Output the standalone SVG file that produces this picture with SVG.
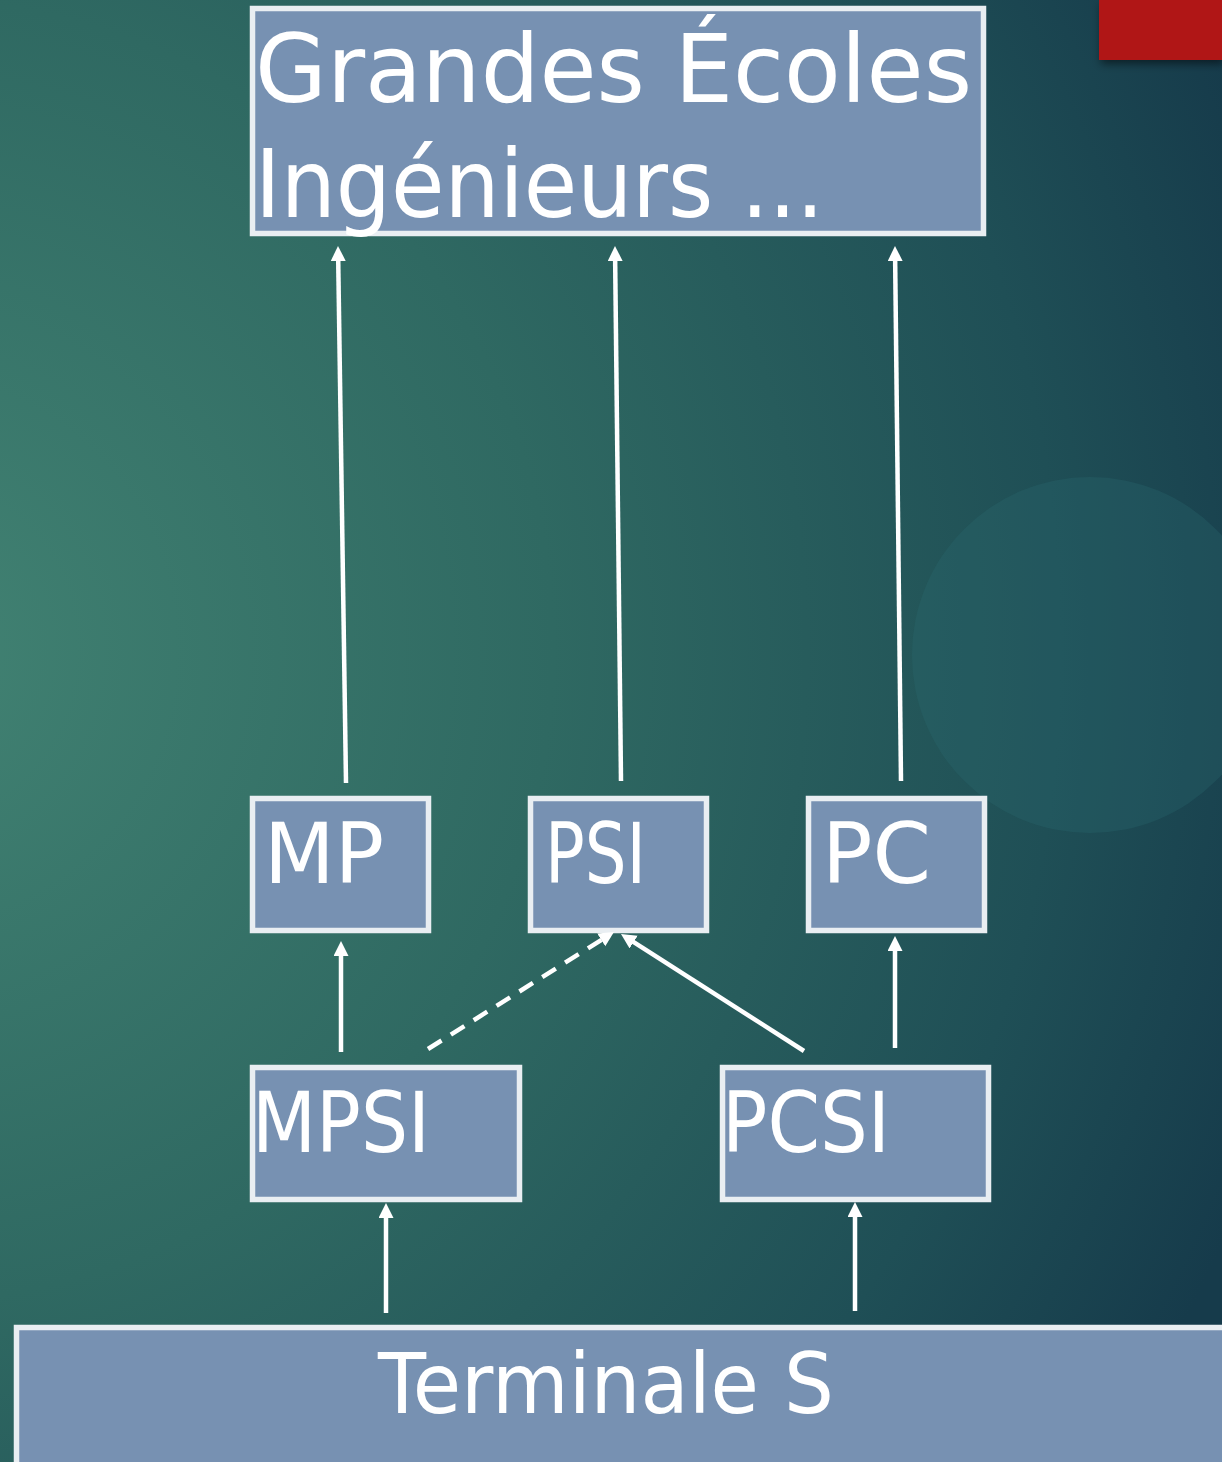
<svg xmlns="http://www.w3.org/2000/svg" width="1222" height="1462" viewBox="0 0 1222 1462">
<defs>
<radialGradient id="bg" gradientUnits="userSpaceOnUse" cx="-100" cy="650" r="1450">
<stop offset="0" stop-color="#428373"/>
<stop offset="0.45" stop-color="#2f6962"/>
<stop offset="0.8" stop-color="#1f4f56"/>
<stop offset="1" stop-color="#163b4b"/>
</radialGradient>
<filter id="sh" x="-20%" y="-20%" width="140%" height="160%">
<feDropShadow dx="2" dy="4" stdDeviation="4" flood-color="#000" flood-opacity="0.5"/>
</filter>
<marker id="ah" markerUnits="userSpaceOnUse" markerWidth="17" markerHeight="17" refX="5" refY="7.5" orient="auto">
<path d="M0,0 L15,7.5 L0,15 z" fill="#ffffff"/>
</marker>
<style>
.box{fill:#7791b2;stroke:#e9eef2;stroke-width:5.5}
.t{fill:#ffffff;font-family:"DejaVu Sans","Liberation Sans",sans-serif}
.c{stroke:#ffffff;stroke-width:4.5;fill:none;marker-end:url(#ah)}
.d{stroke-dasharray:16 11}
</style>
</defs>
<rect x="0" y="0" width="1222" height="1462" fill="url(#bg)"/>
<circle cx="1090" cy="655" r="178" fill="#2b6a72" opacity="0.3"/>
<rect x="1099" y="0" width="123" height="60" fill="#b01816" filter="url(#sh)"/>

<g id="node-grandes-ecoles">
<rect class="box" x="252.5" y="8.5" width="731" height="225"/>
<text class="t" x="255" y="102" font-size="95" textLength="717" lengthAdjust="spacingAndGlyphs">Grandes Écoles</text>
<text class="t" x="255" y="217" font-size="95" textLength="569" lengthAdjust="spacingAndGlyphs">Ingénieurs ...</text>
</g>
<g id="node-mp">
<rect class="box" x="252.5" y="798.5" width="176" height="132"/>
<text class="t" x="264" y="883" font-size="84" textLength="120" lengthAdjust="spacingAndGlyphs">MP</text>
</g>
<g id="node-psi">
<rect class="box" x="530.5" y="798.5" width="176" height="132"/>
<text class="t" x="545" y="883" font-size="84" textLength="101" lengthAdjust="spacingAndGlyphs">PSI</text>
</g>
<g id="node-pc">
<rect class="box" x="808.5" y="798.5" width="176" height="132"/>
<text class="t" x="822" y="883" font-size="84" textLength="109" lengthAdjust="spacingAndGlyphs">PC</text>
</g>
<g id="node-mpsi">
<rect class="box" x="252.5" y="1067.5" width="267" height="132"/>
<text class="t" x="252" y="1152" font-size="84" textLength="178" lengthAdjust="spacingAndGlyphs">MPSI</text>
</g>
<g id="node-pcsi">
<rect class="box" x="722.5" y="1067.5" width="266" height="132"/>
<text class="t" x="722" y="1152" font-size="84" textLength="168" lengthAdjust="spacingAndGlyphs">PCSI</text>
</g>
<g id="node-terminale">
<rect class="box" x="16.5" y="1327.5" width="1210" height="140"/>
<text class="t" x="378" y="1413" font-size="84" textLength="456" lengthAdjust="spacingAndGlyphs">Terminale S</text>
</g>

<g id="connectors">
<line class="c" x1="346" y1="783" x2="338.15" y2="256"/>
<line class="c" x1="621" y1="781" x2="615.1" y2="256"/>
<line class="c" x1="901" y1="781" x2="895.1" y2="256"/>
<line class="c" x1="341" y1="1052" x2="341" y2="951"/>
<line class="c" x1="895" y1="1048" x2="895" y2="946"/>
<line class="c d" x1="428" y1="1049" x2="605.5" y2="937.3"/>
<line class="c" x1="804" y1="1051" x2="629.4" y2="939.4"/>
<line class="c" x1="386" y1="1313" x2="386" y2="1213"/>
<line class="c" x1="855" y1="1311" x2="855" y2="1212"/>
</g>
</svg>
